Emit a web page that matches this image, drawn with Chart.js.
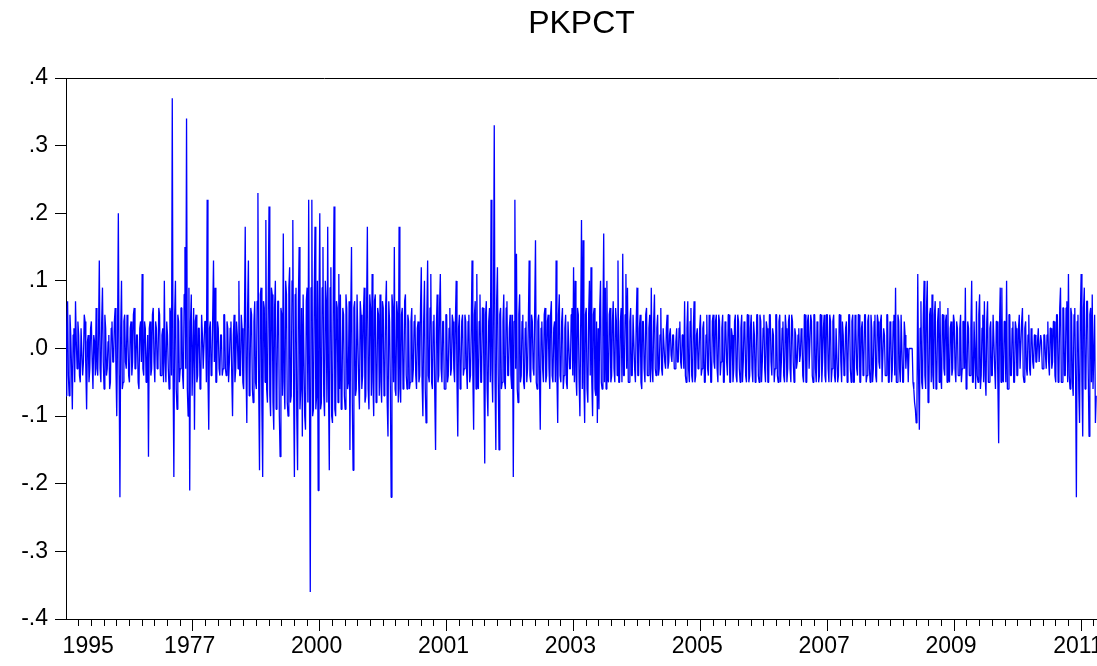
<!DOCTYPE html>
<html>
<head>
<meta charset="utf-8">
<script src="https://cdn.jsdelivr.net/npm/chart.js@4/dist/chart.umd.min.js"></script>
<style>
  html, body { margin: 0; padding: 0; background: #fff; }
  canvas { display: block; }
</style>
</head>
<body>
<canvas id="chart" width="1097" height="666"></canvas>
<script>
// PKPCT, values in hundredths (3 = 0.03)
const pkpctValues = [
  -7, 3, 7, -4, -7, 5, 2, -3, -9, 2, 3, -5, 7, 1, -3, 4, 2, -4, -5, 3,
  3, -4, -2, 5, 4, -3, -9, 1, 2, -5, -3, 3, 4, -2, -6, 2, 1, -4, 6, -3,
  -4, 2, 13, -3, -5, 4, 9, -2, -6, 5, 3, -4, -3, 1, 2, -6, -5, 3, 4, -2,
  -2, 4, 6, -3, -10, 2, 20, -4, -22, 3, 10, -6, -5, 4, 5, -2, -3, 5, 2, -4,
  -5, 3, 4, -4, -2, 5, 6, -3, -3, 2, 2, -5, -6, 3, 4, -2, 11, -3, -4, 4,
  3, -5, -2, 2, -16, 3, 4, -4, -3, 5, 6, -2, -5, 4, 3, -3, -2, 6, 5, -4,
  -4, 2, 3, -5, 10, -2, -5, 4, 2, -3, -6, 6, 5, -4, 37, -3, -19, 5, 10, -6,
  -9, 5, 4, -5, -3, 6, 6, -4, -6, 8, 15, -3, 34, -6, -10, 9, -21, 4, 8, -7,
  -7, 6, -12, 4, 5, -5, -4, 3, 3, -6, -5, 5, 2, -3, -3, 4, 4, -5, 22, -4,
  -12, 3, 4, -4, -3, 5, 13, -2, 9, -5, -5, 4, 3, -3, -4, 2, 2, -4, -3, 5,
  5, -3, -4, 4, 3, -5, -2, 3, 4, -4, -10, 2, 5, -5, -3, 4, 2, -3, 10, -4,
  -4, 5, 3, -5, -6, 4, 18, -3, -11, 6, 13, -7, -4, 6, 5, -6, -8, 4, 7, -5,
  -6, 7, 23, -6, -18, 8, 9, -9, -19, 7, 6, -5, 19, -6, -8, 8, 21, -7, -10, 9,
  8, -8, -12, 6, 10, -9, -6, 7, 7, -10, -16, 6, 5, -7, 17, -5, -9, 10, 8, -8,
  -10, 9, 12, -8, -7, 10, 19, -6, -19, 8, 9, -10, -18, 7, 15, -9, -6, 6, -13, 8,
  8, -10, -12, 7, 9, -8, 22, -6, -36, 9, 22, -10, -9, 8, 18, -9, -7, 10, -21, 6,
  20, -9, -8, 9, 15, -7, -10, 10, 7, -8, 18, -6, -18, 9, 12, -10, -11, 8, 21, -9,
  -10, 7, 6, -8, 11, -6, 8, -9, -7, 6, 5, -7, -9, 8, 6, -6, -5, 7, -15, 5,
  15, -8, -18, 6, 7, -7, -6, 8, 8, -5, -9, 7, 5, -6, -4, 5, 9, -8, -7, 6,
  18, -6, -9, 8, 6, -7, 11, -5, -10, 7, 8, -8, -6, 6, 5, -7, 8, -5, -8, 7,
  6, -7, -5, 6, 10, -8, -13, 7, 4, -6, -22, 8, 6, -5, 15, -6, -7, 7, 5, -8,
  18, -6, -8, 5, 6, -6, -5, 7, 8, -4, -6, 5, 4, -6, -5, 4, 6, -5, -3, 4,
  5, -4, -6, 3, 4, -5, -4, 6, 12, -5, -10, 4, 10, -6, -11, 5, 13, -4, -5, 6,
  11, -5, -6, 4, 5, -7, -15, 3, 8, -5, -4, 6, 11, -3, -5, 4, 4, -6, -6, 5,
  5, -5, -4, 3, 6, -4, -3, 5, 4, -3, -5, 4, 10, -5, -13, 3, 5, -6, -4, 4,
  5, -4, -3, 5, 4, -3, -6, 4, 5, -5, -4, 3, 13, -4, -12, 5, 7, -6, 11, -5,
  -6, 4, 8, -5, -5, 6, 6, -4, -17, 5, 7, -6, -10, 4, 6, -5, 22, -3, -8, 6,
  33, -5, -15, 7, 12, -4, -15, 5, 6, -6, -5, 4, 8, -5, -6, 6, 7, -4, -4, 3,
  5, -4, -6, 5, -19, 4, 22, -3, 14, -6, -8, 5, 8, -5, -4, 4, 5, -5, -6, 3,
  4, -5, -3, 4, 13, -4, -5, 5, 4, -3, -4, 6, 16, -5, -6, 4, 5, -4, -12, 3,
  4, -3, -5, 5, 6, -5, -4, 4, 5, -3, -6, 5, 7, -4, -5, 3, 4, -5, 13, -4,
  -11, 5, 8, -4, -5, 4, 6, -6, -4, 3, 5, -5, -6, 4, 4, -3, -3, 5, 6, -4,
  12, -5, 10, -4, -7, 6, 5, -5, -10, 4, 19, -6, 16, -5, -11, 5, 6, -6, -8, 5,
  10, -4, 12, -5, -10, 5, 6, -6, -7, 4, -11, 3, -9, 6, 10, -5, -6, 4, 17, -5,
  9, -6, 10, -4, -5, 5, 6, -5, -4, 4, 7, -3, -5, 6, 4, -4, 13, -5, -5, 4,
  6, -5, 14, -4, -4, 5, 11, -3, 9, -5, -5, 4, 6, -4, -4, 5, 5, -3, -5, 4,
  9, -4, -4, 3, 5, -5, -6, 4, 4, -3, -5, 5, 6, -4, -4, 3, 5, -5, 9, -3,
  -5, 4, 8, -3, -4, 3, 5, -4, -3, 2, 6, -3, -4, 3, 3, -2, -3, 3, 5, -3,
  -2, 2, 3, -1, -2, 2, 2, -3, -3, 1, 3, -2, -2, 3, 4, -2, -3, 2, 2, -3,
  7, -4, -5, 3, 7, -3, -5, 4, 6, -4, -5, 3, 7, -5, -4, 2, 3, -3, -2, 3,
  5, -4, -3, 3, 4, -5, -5, 2, 5, -3, -4, 5, 3, -5, -5, 4, 5, -2, -3, 4,
  5, -3, -5, 5, 4, -4, -2, 3, 5, -5, -5, 4, 3, -2, -4, 5, 5, -5, -5, 3,
  2, -5, -3, 4, 5, -4, -5, 5, 4, -3, -5, 3, 5, -5, -2, 4, 3, -4, -5, 5,
  5, -5, -4, 3, 5, -3, -5, 4, 2, -5, -3, 5, 5, -4, -5, 5, 4, -5, -2, 3,
  5, -3, -5, 4, 3, -5, -5, 5, 5, -2, -4, 3, 2, -5, -3, 5, 5, -4, -5, 4,
  5, -5, -2, 3, 4, -4, -5, 5, 3, -5, -3, 4, 5, -3, -5, 5, 4, -2, -5, 3,
  2, -3, -2, 2, 3, -2, -1, 3, 2, -4, -5, 5, 5, -5, -5, 4, 5, -3, -3, 5,
  4, -4, -5, 5, 5, -3, -5, 4, 3, -5, -4, 5, 5, -5, -2, 3, 5, -4, -5, 5,
  5, -3, -5, 5, 4, -5, -3, 4, 5, -4, -5, 3, 3, -5, -4, 5, 5, -2, -5, 4,
  2, -4, -3, 3, 4, -5, -2, 5, 5, -3, -5, 4, 5, -5, -5, 5, 3, -3, -4, 5,
  5, -5, -5, 3, 4, -4, -2, 5, 5, -5, -4, 4, 5, -3, -5, 5, 3, -5, -3, 4,
  5, -4, -5, 5, 4, -2, -3, 4, 5, -5, -5, 3, 2, -4, -4, 5, 5, -5, -5, 4,
  3, -5, -3, 4, 5, -4, 9, -5, -5, 5, 4, -3, -5, 5, 5, -5, -5, 4, 2, -3,
  0, 0, -5, 0, 0, 0, 0, 0, -5, -6, -8, -9, -11, -8, 11, -4, -12, 3, 7, -5,
  -6, 5, 10, -4, -6, 6, 10, -8, -7, 5, 6, -5, 8, -4, -6, 5, 7, -6, -5, 4,
  6, -5, 7, -4, -6, 5, 5, -3, -4, 4, 5, -5, 6, -4, -5, 3, 4, -4, -3, 5,
  4, -3, -5, 4, 3, -4, -4, 3, 5, -5, -3, 4, 4, -3, 9, -6, -5, 4, 3, -4,
  -4, 3, 10, -5, -5, 4, 4, -6, 7, -4, -5, 5, 8, -6, -4, 3, 5, -5, 7, -4,
  -7, 4, 7, -5, -5, 3, 4, -4, -4, 5, 5, -3, -6, 4, 4, -5, -14, 3, 9, -5,
  9, -4, -5, 4, 4, -5, 10, -6, -6, 5, 5, -4, -4, 3, 4, -5, -5, 4, 3, -4,
  -4, 3, 5, -3, -3, 4, 6, -4, -5, 3, 4, -3, -4, 2, 5, -3, -4, 3, 2, -2,
  -3, 2, 2, -2, -2, 1, 3, -2, -2, 2, 1, -3, -3, 2, 2, -1, -3, 2, 4, -2,
  -4, 3, 3, -3, -2, 4, 4, -4, -5, 5, 5, -5, -4, 6, 9, -5, -5, 6, 6, -4,
  -4, 6, 7, -5, 11, -4, -6, 6, 5, -5, -7, 5, 6, -4, -22, 4, 5, -6, -11, 5,
  11, -5, -13, 6, 9, -6, -5, 7, 7, -4, -13, 5, 6, -5, 8, -6, -6, 5, -11, -7
];

// x axis: observation index; labelled positions and their text
const tickIndex  = [32, 160, 320, 480, 640, 800, 960, 1120, 1280];
const tickLabels = ['1995', '1977', '2000', '2001', '2003', '2005', '2007', '2009', '2011'];
const minorStep = 16;
const obsCount = 1300;

// y axis ticks
const yTicks = [-0.4, -0.3, -0.2, -0.1, 0, 0.1, 0.2, 0.3, 0.4];

const FONT = "'Liberation Sans', Arial, Helvetica, sans-serif";

const points = pkpctValues.map((v, i) => ({ x: i, y: v / 100 }));

const xTickVals = [];
for (let v = minorStep; v < obsCount; v += minorStep) xTickVals.push(v);

function isMajor(v) { return tickIndex.indexOf(v) > 0; }

new Chart(document.getElementById('chart'), {
    type: 'line',
    data: {
        datasets: [{
            data: points,
            borderColor: '#0000ff',
            borderWidth: 1.3,
            borderJoinStyle: 'bevel',
            pointRadius: 0,
            tension: 0,
            fill: false
        }]
    },
    options: {
        responsive: false,
        animation: false,
        devicePixelRatio: 1,
        layout: { padding: 0 },
        plugins: {
            legend: { display: false },
            tooltip: { enabled: false },
            title: {
                display: true,
                text: 'PKPCT',
                fullSize: false,
                color: '#000',
                font: { family: FONT, size: 32, weight: 'normal' },
                padding: { top: 5, bottom: 34.6 }
            }
        },
        scales: {
            x: {
                type: 'linear',
                min: 0,
                max: obsCount,
                afterBuildTicks: s => { s.ticks = xTickVals.map(v => ({ value: v })); },
                afterFit: s => { s.height = 47; s.paddingLeft = 0; s.paddingRight = 0; },
                ticks: {
                    autoSkip: false,
                    maxRotation: 0,
                    padding: 2,
                    color: '#000',
                    font: { family: FONT, size: 23 },
                    // trailing space nudges each label a little left of its tick, as in the original
                    callback: v => {
                        const k = tickIndex.indexOf(v);
                        return k >= 0 ? tickLabels[k] + ' ' : '';
                    }
                },
                grid: {
                    drawOnChartArea: false,
                    drawTicks: true,
                    tickLength: 12,
                    tickWidth: 1,
                    tickColor: '#000',
                    tickBorderDash: ctx => (ctx.tick && isMajor(ctx.tick.value)) ? [] : [6, 30]
                },
                border: { display: true, color: '#000', width: 1 }
            },
            y: {
                min: -0.4,
                max: 0.4,
                afterBuildTicks: s => { s.ticks = yTicks.map(v => ({ value: v })); },
                afterFit: s => { s.width = 66; s.paddingTop = 0; s.paddingBottom = 0; },
                ticks: {
                    padding: 7,
                    color: '#000',
                    font: { family: FONT, size: 23 },
                    callback: v => v.toFixed(1).replace('0.', '.')
                },
                grid: {
                    drawTicks: true,
                    tickLength: 11,
                    tickColor: '#000',
                    color: ctx => (ctx.tick && Math.abs(ctx.tick.value - 0.4) < 1e-9) ? '#000' : 'rgba(0,0,0,0)'
                },
                border: { display: true, color: '#000', width: 1 }
            }
        }
    }
});
</script>
</body>
</html>
